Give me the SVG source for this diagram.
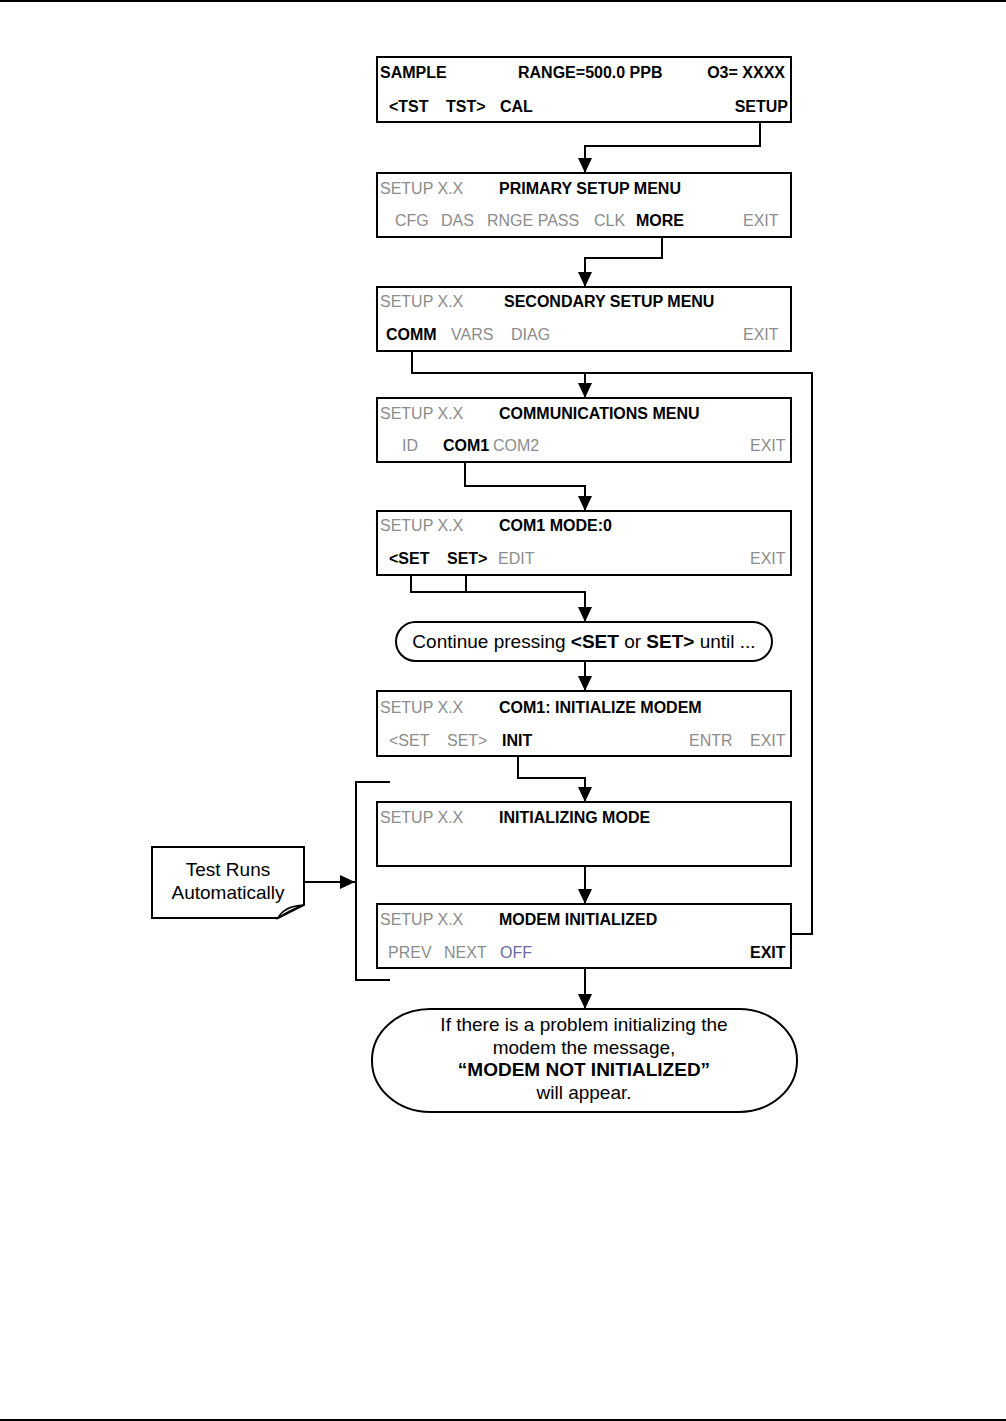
<svg xmlns="http://www.w3.org/2000/svg" width="1006" height="1421" viewBox="0 0 1006 1421">
<style>
.box{fill:#fff;stroke:#000;stroke-width:2}
.ln{fill:none;stroke:#000;stroke-width:2}
.b{font-family:"Liberation Sans",Arial,sans-serif;font-size:16px;font-weight:bold;fill:#000}
.g{font-family:"Liberation Sans",Arial,sans-serif;font-size:16px;fill:#8c8c8c}
.o{font-family:"Liberation Sans",Arial,sans-serif;font-size:16px;fill:#6a6aa8}
.t{font-family:"Liberation Sans",Arial,sans-serif;font-size:19px;fill:#000}
.tb{font-weight:bold}
</style>
<defs>
<marker id="ah" markerWidth="15" markerHeight="14" refX="15" refY="7" orient="auto" markerUnits="userSpaceOnUse">
<path d="M0,0 L15,7 L0,14 Z" fill="#000"/>
</marker>
</defs>
<line x1="0" y1="1" x2="1006" y2="1" stroke="#000" stroke-width="2"/>
<line x1="0" y1="1420" x2="1006" y2="1420" stroke="#000" stroke-width="2"/>

<g id="connectors">
<polyline class="ln" points="760,122 760,146 585,146 585,173" marker-end="url(#ah)"/>
<polyline class="ln" points="662,237 662,258 585,258 585,287" marker-end="url(#ah)"/>
<polyline class="ln" points="412,351 412,373 812,373 812,934 791,934"/>
<polyline class="ln" points="585,373 585,398" marker-end="url(#ah)"/>
<polyline class="ln" points="465,462 465,486 585,486 585,511" marker-end="url(#ah)"/>
<polyline class="ln" points="411,575 411,592 585,592 585,622" marker-end="url(#ah)"/>
<line class="ln" x1="466" y1="575" x2="466" y2="592"/>
<line class="ln" x1="585" y1="661" x2="585" y2="691" marker-end="url(#ah)"/>
<polyline class="ln" points="518,756 518,778 585,778 585,802" marker-end="url(#ah)"/>
<line class="ln" x1="585" y1="866" x2="585" y2="904" marker-end="url(#ah)"/>
<line class="ln" x1="585" y1="968" x2="585" y2="1009" marker-end="url(#ah)"/>
<polyline class="ln" points="390,782 356,782 356,980 390,980"/>
<line class="ln" x1="304" y1="882" x2="355" y2="882" marker-end="url(#ah)"/>
</g>

<g id="n1">
<rect class="box" x="377" y="57" width="414" height="65"/>
<text class="b" x="380" y="78">SAMPLE</text>
<text class="b" x="518" y="78">RANGE=500.0 PPB</text>
<text class="b" x="785" y="78" text-anchor="end">O3= XXXX</text>
<text class="b" x="389" y="112">&lt;TST</text>
<text class="b" x="446" y="112">TST&gt;</text>
<text class="b" x="500" y="112">CAL</text>
<text class="b" x="788" y="112" text-anchor="end">SETUP</text>
</g>

<g id="n2">
<rect class="box" x="377" y="173" width="414" height="64"/>
<text class="g" x="380" y="194">SETUP X.X</text>
<text class="b" x="499" y="194">PRIMARY SETUP MENU</text>
<text class="g" x="395" y="226">CFG</text>
<text class="g" x="441" y="226">DAS</text>
<text class="g" x="487" y="226">RNGE PASS</text>
<text class="g" x="594" y="226">CLK</text>
<text class="b" x="636" y="226">MORE</text>
<text class="g" x="743" y="226">EXIT</text>
</g>

<g id="n3">
<rect class="box" x="377" y="287" width="414" height="64"/>
<text class="g" x="380" y="307">SETUP X.X</text>
<text class="b" x="504" y="307">SECONDARY SETUP MENU</text>
<text class="b" x="386" y="340">COMM</text>
<text class="g" x="451" y="340">VARS</text>
<text class="g" x="511" y="340">DIAG</text>
<text class="g" x="743" y="340">EXIT</text>
</g>

<g id="n4">
<rect class="box" x="377" y="398" width="414" height="64"/>
<text class="g" x="380" y="419">SETUP X.X</text>
<text class="b" x="499" y="419">COMMUNICATIONS MENU</text>
<text class="g" x="402" y="451">ID</text>
<text class="b" x="443" y="451">COM1</text>
<text class="g" x="493" y="451">COM2</text>
<text class="g" x="750" y="451">EXIT</text>
</g>

<g id="n5">
<rect class="box" x="377" y="511" width="414" height="64"/>
<text class="g" x="380" y="531">SETUP X.X</text>
<text class="b" x="499" y="531">COM1 MODE:0</text>
<text class="b" x="389" y="564">&lt;SET</text>
<text class="b" x="447" y="564">SET&gt;</text>
<text class="g" x="498" y="564">EDIT</text>
<text class="g" x="750" y="564">EXIT</text>
</g>

<g id="n6">
<rect class="box" x="396" y="622" width="376" height="39" rx="19.5"/>
<text class="t" x="584" y="648" text-anchor="middle">Continue pressing <tspan class="tb">&lt;SET</tspan> or <tspan class="tb">SET&gt;</tspan> until ...</text>
</g>

<g id="n7">
<rect class="box" x="377" y="691" width="414" height="65"/>
<text class="g" x="380" y="713">SETUP X.X</text>
<text class="b" x="499" y="713">COM1: INITIALIZE MODEM</text>
<text class="g" x="389" y="746">&lt;SET</text>
<text class="g" x="447" y="746">SET&gt;</text>
<text class="b" x="502" y="746">INIT</text>
<text class="g" x="689" y="746">ENTR</text>
<text class="g" x="750" y="746">EXIT</text>
</g>

<g id="n8">
<rect class="box" x="377" y="802" width="414" height="64"/>
<text class="g" x="380" y="823">SETUP X.X</text>
<text class="b" x="499" y="823">INITIALIZING MODE</text>
</g>

<g id="n9">
<rect class="box" x="377" y="904" width="414" height="64"/>
<text class="g" x="380" y="925">SETUP X.X</text>
<text class="b" x="499" y="925">MODEM INITIALIZED</text>
<text class="g" x="388" y="958">PREV</text>
<text class="g" x="444" y="958">NEXT</text>
<text class="o" x="500" y="958">OFF</text>
<text class="b" x="750" y="958">EXIT</text>
</g>

<g id="n10">
<path class="box" d="M152,847 H304 V905 L278,918 H152 Z"/>
<path d="M278,918 Q284,906 304,905 Q292,909 278,918 Z" fill="#e6e6e6" stroke="#000" stroke-width="1.5"/>
<text class="t" x="228" y="876" text-anchor="middle">Test Runs</text>
<text class="t" x="228" y="899" text-anchor="middle">Automatically</text>
</g>

<g id="n11">
<rect class="box" x="372" y="1009" width="425" height="103" rx="58" ry="51"/>
<text class="t" x="584" y="1031" text-anchor="middle">If there is a problem initializing the</text>
<text class="t" x="584" y="1054" text-anchor="middle">modem the message,</text>
<text class="t tb" x="584" y="1076" text-anchor="middle">“MODEM NOT INITIALIZED”</text>
<text class="t" x="584" y="1099" text-anchor="middle">will appear.</text>
</g>
</svg>
